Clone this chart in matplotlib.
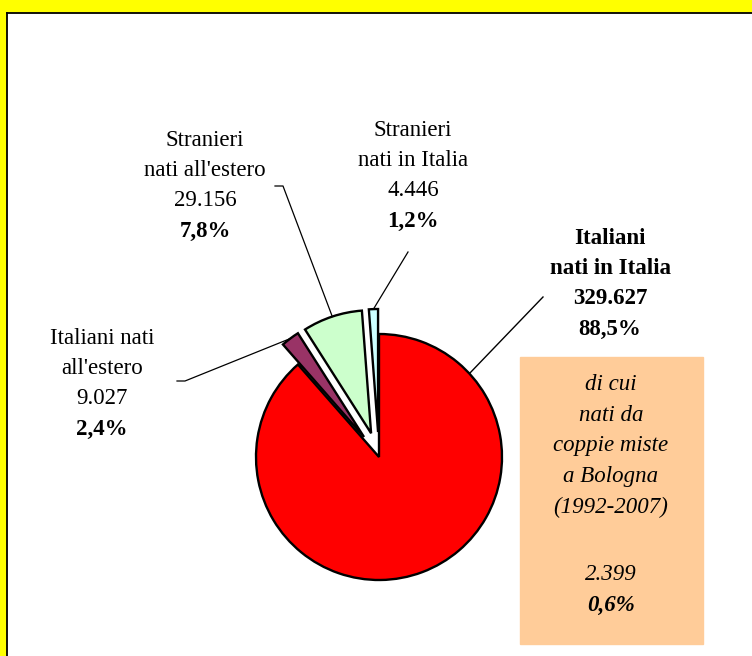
import numpy as np
import matplotlib
matplotlib.use("Agg")
import matplotlib.pyplot as plt
from matplotlib.patches import Rectangle

plt.rcParams["font.family"] = "Liberation Serif"

# dati
categorie = ["Italiani nati in Italia", "Italiani nati all'estero",
             "Stranieri nati all'estero", "Stranieri nati in Italia"]
valori = [329627, 9027, 29156, 4446]
percentuali = ["88,5%", "2,4%", "7,8%", "1,2%"]
valori_txt = ["329.627", "9.027", "29.156", "4.446"]
etichette = [["Italiani", "nati in Italia"],
             ["Italiani nati", "all'estero"],
             ["Stranieri", "nati all'estero"],
             ["Stranieri", "nati in Italia"]]
colori = ["#FF0000", "#993366", "#CCFFCC", "#CCFFFF"]

miste_testo = ["di cui", "nati da", "coppie miste", "a Bologna", "(1992-2007)"]
miste_valore = "2.399"
miste_perc = "0,6%"

W, H = 752, 656
fig = plt.figure(figsize=(W / 100, H / 100), dpi=100)
ax = fig.add_axes([0, 0, 1, 1])


def py(y):
    return H - y


# cornice gialla
ax.add_patch(Rectangle((0, py(12)), W, 12, color="#FFFF00", zorder=0))
ax.add_patch(Rectangle((0, 0), 6, H, color="#FFFF00", zorder=0))
ax.plot([6.5, W], [py(13), py(13)], color="black", lw=1.3)
ax.plot([6.5, 6.5], [0, py(13)], color="black", lw=1.3)

cx, cy, r = 379, py(457), 123
stacco = [0, 25, 25, 25]
wedges, _ = ax.pie(valori, colors=colori, explode=stacco, startangle=90,
                   counterclock=False, center=(cx, cy), radius=r,
                   wedgeprops=dict(edgecolor="black", linewidth=1.7))

ax.set_xlim(0, W)
ax.set_ylim(0, H)
ax.set_aspect("equal")
ax.axis("off")


def bordo(w, ang=None):
    if ang is None:
        ang = (w.theta1 + w.theta2) / 2
    a = np.deg2rad(ang)
    return w.center[0] + w.r * np.cos(a), w.center[1] + w.r * np.sin(a)


fs = 16.5
dy = 30.5


def righe(x, y0, testi, grassetti, corsivo=False, z=3):
    for i, (t, b) in enumerate(zip(testi, grassetti)):
        ax.text(x, py(y0 + i * dy), t, ha="center", va="center", fontsize=fs,
                fontweight="bold" if b else "normal",
                style="italic" if corsivo else "normal", zorder=z)


# etichette
pos = [(610, 238), (102, 338), (205, 140), (413, 130)]
for k in range(4):
    testi = etichette[k] + [valori_txt[k], percentuali[k]]
    if k == 0:
        grass = [True] * 4
    else:
        grass = [False, False, False, True]
    righe(pos[k][0], pos[k][1], testi, grass)

# linee guida
x, y = bordo(wedges[0], 42.7)
ax.plot([543, x], [py(297), y], color="black", lw=1.0)
x, y = bordo(wedges[1])
ax.plot([177, 185, x], [py(381), py(381), y], color="black", lw=0.9)
x, y = bordo(wedges[2])
ax.plot([275, 283, x], [py(186), py(186), y], color="black", lw=0.9)
x, y = bordo(wedges[3])
ax.plot([408, x], [py(252), y], color="black", lw=0.9)

# riquadro coppie miste
ax.add_patch(Rectangle((520, py(644)), 183, 287, color="#FFCC99", zorder=1))
righe(611, 385, miste_testo, [False] * 5, corsivo=True)
righe(611, 575, [miste_valore, miste_perc], [False, True], corsivo=True)

fig.savefig("out.png", dpi=100)
